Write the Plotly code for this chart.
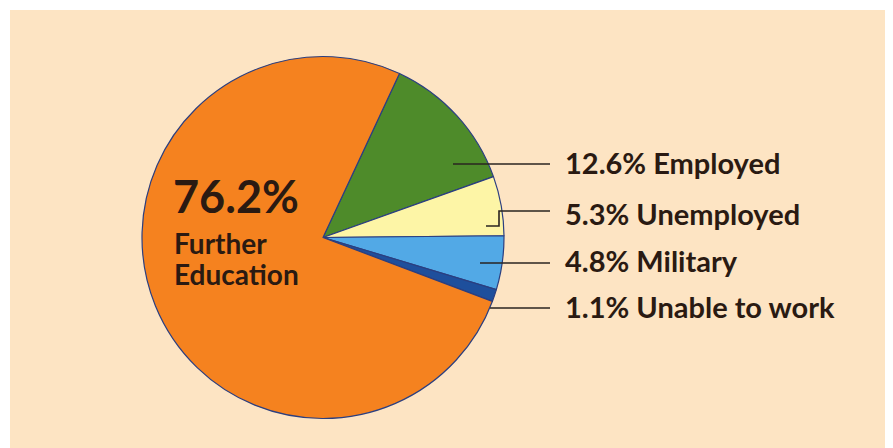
import plotly.graph_objects as go

W, H = 893, 448
OFF = 8  # default page body margin in the exported html

categories = ["Employed", "Unemployed", "Military", "Unable to work", "Further Education"]
values = [12.6, 5.3, 4.8, 1.1, 76.2]
label_text = ["12.6% Employed", "5.3% Unemployed", "4.8% Military", "1.1% Unable to work"]
main_pct = "76.2%"
main_lines = ["Further", "Education"]

colors = ["#4e8b2a", "#fdf5a6", "#52a9e6", "#1e4f9c", "#f5821f"]

def px(x):
    return (x - OFF) / W

def py(y):
    return 1 - (y - OFF) / H

cx, cy, r = 323, 237.5, 181

fig = go.Figure()
fig.add_trace(go.Pie(
    labels=categories, values=values, sort=False, direction="clockwise",
    rotation=25, textinfo="none", hoverinfo="label+percent",
    marker=dict(colors=colors, line=dict(color="#2b3f80", width=1.2)),
    domain=dict(x=[px(cx - r), px(cx + r)], y=[py(cy + r), py(cy - r)]),
    showlegend=False,
))

shapes = [
    dict(type="rect", xref="paper", yref="paper", x0=px(10), x1=1.02, y0=-0.05, y1=py(10),
         fillcolor="#fde4c3", line=dict(width=0), layer="below"),
]
line_style = dict(color="#2a2420", width=1.6)
paths = [
    [(453, 164), (550, 164)],
    [(486, 226), (499, 226), (499, 211), (550, 211)],
    [(480, 263), (550, 263)],
    [(490, 308), (550, 308)],
]
for pts in paths:
    d = "M " + " L ".join(f"{px(x)},{py(y)}" for x, y in pts)
    shapes.append(dict(type="path", xref="paper", yref="paper", path=d, line=line_style))

font_family = "Lato, 'Open Sans', sans-serif"
txt_color = "#2a1a12"
label_y = [163, 213, 260, 306.5]
annotations = []
for t, y in zip(label_text, label_y):
    annotations.append(dict(text=f"<b>{t}</b>", x=px(563), y=py(y), xref="paper", yref="paper",
                            xanchor="left", yanchor="middle", showarrow=False,
                            font=dict(family=font_family, size=29, color=txt_color)))
annotations.append(dict(text=f"<b>{main_pct}</b>", x=px(171), y=py(196), xref="paper", yref="paper",
                        xanchor="left", yanchor="middle", showarrow=False,
                        font=dict(family=font_family, size=45, color=txt_color)))
for t, y in zip(main_lines, [243, 274]):
    annotations.append(dict(text=f"<b>{t}</b>", x=px(172), y=py(y), xref="paper", yref="paper",
                            xanchor="left", yanchor="middle", showarrow=False,
                            font=dict(family=font_family, size=28, color=txt_color)))

fig.update_layout(
    width=W, height=H, margin=dict(l=0, r=0, t=0, b=0),
    paper_bgcolor="white", plot_bgcolor="white",
    shapes=shapes, annotations=annotations,
)
fig.write_html("out.html")
